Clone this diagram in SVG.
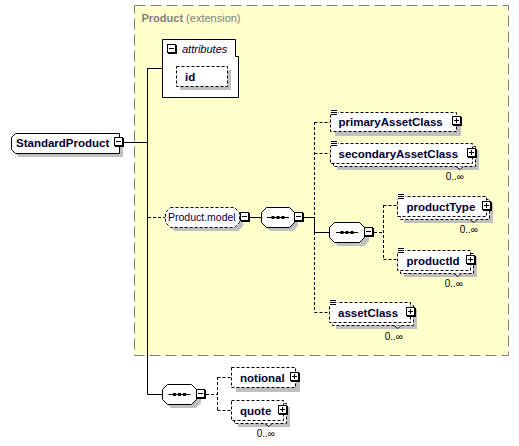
<svg xmlns="http://www.w3.org/2000/svg" xmlns:xlink="http://www.w3.org/1999/xlink" width="519" height="446" viewBox="0 0 519 446">
<style>
.sh{fill:#c0c0c0}
.solid{fill:#fff;stroke:#000;stroke-width:1}
.dbox{fill:#fff;stroke:#000;stroke-width:1;stroke-dasharray:3,2}
.ln{fill:none;stroke:#000;stroke-width:1}
.dl{fill:none;stroke:#000;stroke-width:1;stroke-dasharray:3,2}
.lbl{font-family:"Liberation Sans",Arial,sans-serif;font-weight:bold;font-size:11.5px;fill:#000033}
.grp{font-family:"Liberation Sans",Arial,sans-serif;font-size:10.5px;fill:#000040}
.occ{font-family:"Liberation Sans",Arial,sans-serif;font-size:10px;fill:#000;text-anchor:end}
.ttl{font-family:"Liberation Sans",Arial,sans-serif;font-size:11px;fill:#808080}
.att{font-family:"Liberation Sans",Arial,sans-serif;font-size:11px;font-style:italic;fill:#000033}
</style>
<defs>
<g id="minus"><rect x="0.5" y="0.5" width="8" height="8" fill="#fff" stroke="#000"/><path d="M9.5,1V10M1,9.5H10" stroke="#000" fill="none"/><path d="M2,4.5H7" stroke="#000"/></g>
<g id="plus"><rect x="0.5" y="0.5" width="8" height="8" fill="#fff" stroke="#000"/><path d="M9.5,1V10M1,9.5H10" stroke="#000" fill="none"/><path d="M2,4.5H7M4.5,2V7" stroke="#000"/></g>
<g id="simple"><rect x="0" y="-3" width="8" height="6" fill="#fff"/><path d="M1,-1.5H7M1,0.5H7M1,2.5H7" stroke="#000" stroke-width="1"/></g>
<g id="seqin"><path d="M6,10H28" stroke="#000"/><rect x="10.5" y="8.5" width="3" height="3"/><rect x="15.5" y="8.5" width="3" height="3"/><rect x="20.5" y="8.5" width="3" height="3"/></g>
</defs>

<g id="product-ext">
<rect x="134.5" y="5.5" width="374" height="350" fill="#ffffcc" stroke="#808080" stroke-dasharray="11,5"/>
<text class="ttl" x="141.5" y="22"><tspan font-weight="bold">Product</tspan> (extension)</text>
</g>

<g id="connectors">
<path class="ln" d="M124,142.5H147.5M147.5,68V394.5M147.5,68.5H162M147.5,394.5H163"/>
<path class="dl" d="M148,217.5H165"/>
<path class="ln" d="M250,217.5H261M304,217.5H314.5"/>
<path class="dl" d="M314.5,122V312.5M314.5,122.5H330M314.5,153.5H330M314.5,312.5H329"/>
<path class="ln" d="M314.5,217V232.5H329"/>
<path class="dl" d="M374,232.5H383.5M383.5,205V259.5M383.5,205.5H397M383.5,259.5H397"/>
<path class="dl" d="M206,394.5H217.5M217.5,377V410.5M217.5,377.5H231M217.5,410.5H231"/>
</g>

<g id="StandardProduct">
<path class="sh" d="M19,137H123V157H19L15,153V141Z"/>
<path class="solid" d="M15.5,133.5H119.5V153.5H15.5L11.5,149.5V137.5Z"/>
<text class="lbl" x="16" y="147">StandardProduct</text>
<use xlink:href="#minus" href="#minus" x="114" y="137"/>
</g>

<g id="attributes">
<path class="solid" d="M162.5,39.5H235.5V56.5H238.5V97.5H162.5Z"/>
<use xlink:href="#minus" href="#minus" x="167" y="44"/>
<text class="att" x="182" y="53">attributes</text>
<rect class="sh" x="180" y="70" width="51" height="20"/>
<rect class="dbox" x="176.5" y="66.5" width="51" height="20"/>
<text class="lbl" x="185" y="81">id</text>
</g>

<g id="Product.model">
<path class="sh" d="M174,211H238L243,216V226L238,231H174L169,226V216Z"/>
<path class="dbox" d="M170.5,207.5H234.5L239.5,212.5V222.5L234.5,227.5H170.5L165.5,222.5V212.5Z"/>
<text class="grp" x="168" y="221">Product.model</text>
<use xlink:href="#minus" href="#minus" x="240" y="212"/>
</g>

<g id="sequence1">
<path class="sh" d="M270,211H293L298,216V226L293,231H270L265,226V216Z"/>
<path class="solid" d="M266.5,207.5H289.5L294.5,212.5V222.5L289.5,227.5H266.5L261.5,222.5V212.5Z"/>
<use xlink:href="#seqin" href="#seqin" x="261" y="207.5"/>
<use xlink:href="#minus" href="#minus" x="294" y="212"/>
</g>

<g id="sequence2">
<path class="sh" d="M338,226H364L369,231V241L364,246H338L333,241V231Z"/>
<path class="solid" d="M334.5,222.5H359.5L364.5,227.5V237.5L359.5,242.5H334.5L329.5,237.5V227.5Z"/>
<use xlink:href="#seqin" href="#seqin" x="330" y="222.5"/>
<use xlink:href="#minus" href="#minus" x="364" y="227"/>
</g>

<g id="sequence3">
<path class="sh" d="M171,388H196L201,393V403L196,408H171L166,403V393Z"/>
<path class="solid" d="M167.5,384.5H191.5L196.5,389.5V399.5L191.5,404.5H167.5L162.5,399.5V389.5Z"/>
<use xlink:href="#seqin" href="#seqin" x="162.5" y="384.5"/>
<use xlink:href="#minus" href="#minus" x="196" y="389"/>
</g>

<g id="primaryAssetClass">
<rect class="sh" x="335" y="117" width="126" height="19"/>
<rect class="dbox" x="330.5" y="112.5" width="126" height="19"/>
<use xlink:href="#simple" href="#simple" x="330" y="112"/>
<text class="lbl" x="338.5" y="126">primaryAssetClass</text>
<use xlink:href="#plus" href="#plus" x="452" y="116"/>
</g>

<g id="secondaryAssetClass">
<rect class="sh" x="337" y="150" width="142" height="20"/>
<rect class="dbox" x="333.5" y="146.5" width="142" height="20"/>
<polyline points="456,166.5 460,169.5 463,166.5" fill="#fff" stroke="#000"/>
<rect class="dbox" x="330.5" y="143.5" width="142" height="20"/>
<use xlink:href="#simple" href="#simple" x="330" y="143"/>
<text class="lbl" x="338.5" y="157.5">secondaryAssetClass</text>
<use xlink:href="#plus" href="#plus" x="467" y="148"/>
<text class="occ" x="464" y="180">0..∞</text>
</g>

<g id="productType">
<rect class="sh" x="404" y="203" width="89" height="20"/>
<rect class="dbox" x="400.5" y="199.5" width="89" height="20"/>
<polyline points="470,219.5 474,222.5 477,219.5" fill="#fff" stroke="#000"/>
<rect class="dbox" x="397.5" y="196.5" width="89" height="20"/>
<use xlink:href="#simple" href="#simple" x="397" y="196"/>
<text class="lbl" x="406.5" y="210.5">productType</text>
<use xlink:href="#plus" href="#plus" x="482" y="201"/>
<text class="occ" x="478" y="233">0..∞</text>
</g>

<g id="productId">
<rect class="sh" x="404" y="257" width="73" height="20"/>
<rect class="dbox" x="400.5" y="253.5" width="73" height="20"/>
<polyline points="454,273.5 458,276.5 461,273.5" fill="#fff" stroke="#000"/>
<rect class="dbox" x="397.5" y="250.5" width="73" height="20"/>
<use xlink:href="#simple" href="#simple" x="397" y="250"/>
<text class="lbl" x="406.5" y="264.5">productId</text>
<use xlink:href="#plus" href="#plus" x="466" y="255"/>
<text class="occ" x="463" y="287">0..∞</text>
</g>

<g id="assetClass">
<rect class="sh" x="336" y="309" width="81" height="20"/>
<rect class="dbox" x="332.5" y="305.5" width="81" height="20"/>
<polyline points="394,325.5 398,328.5 401,325.5" fill="#fff" stroke="#000"/>
<rect class="dbox" x="329.5" y="302.5" width="81" height="20"/>
<use xlink:href="#simple" href="#simple" x="329" y="302"/>
<text class="lbl" x="338" y="316.5">assetClass</text>
<use xlink:href="#plus" href="#plus" x="406" y="307"/>
<text class="occ" x="403" y="339.5">0..∞</text>
</g>

<g id="notional">
<rect class="sh" x="236" y="372" width="64" height="20"/>
<rect class="dbox" x="231.5" y="367.5" width="64" height="20"/>
<text class="lbl" x="240" y="381.5">notional</text>
<use xlink:href="#plus" href="#plus" x="290" y="372"/>
</g>

<g id="quote">
<rect class="sh" x="238" y="407" width="52" height="20"/>
<rect class="dbox" x="234.5" y="403.5" width="52" height="20"/>
<polyline points="265,423.5 269,426.5 272,423.5" fill="#fff" stroke="#000"/>
<rect class="dbox" x="231.5" y="400.5" width="52" height="20"/>
<text class="lbl" x="240" y="414.5">quote</text>
<use xlink:href="#plus" href="#plus" x="278" y="405"/>
<text class="occ" x="275" y="437">0..∞</text>
</g>
</svg>
